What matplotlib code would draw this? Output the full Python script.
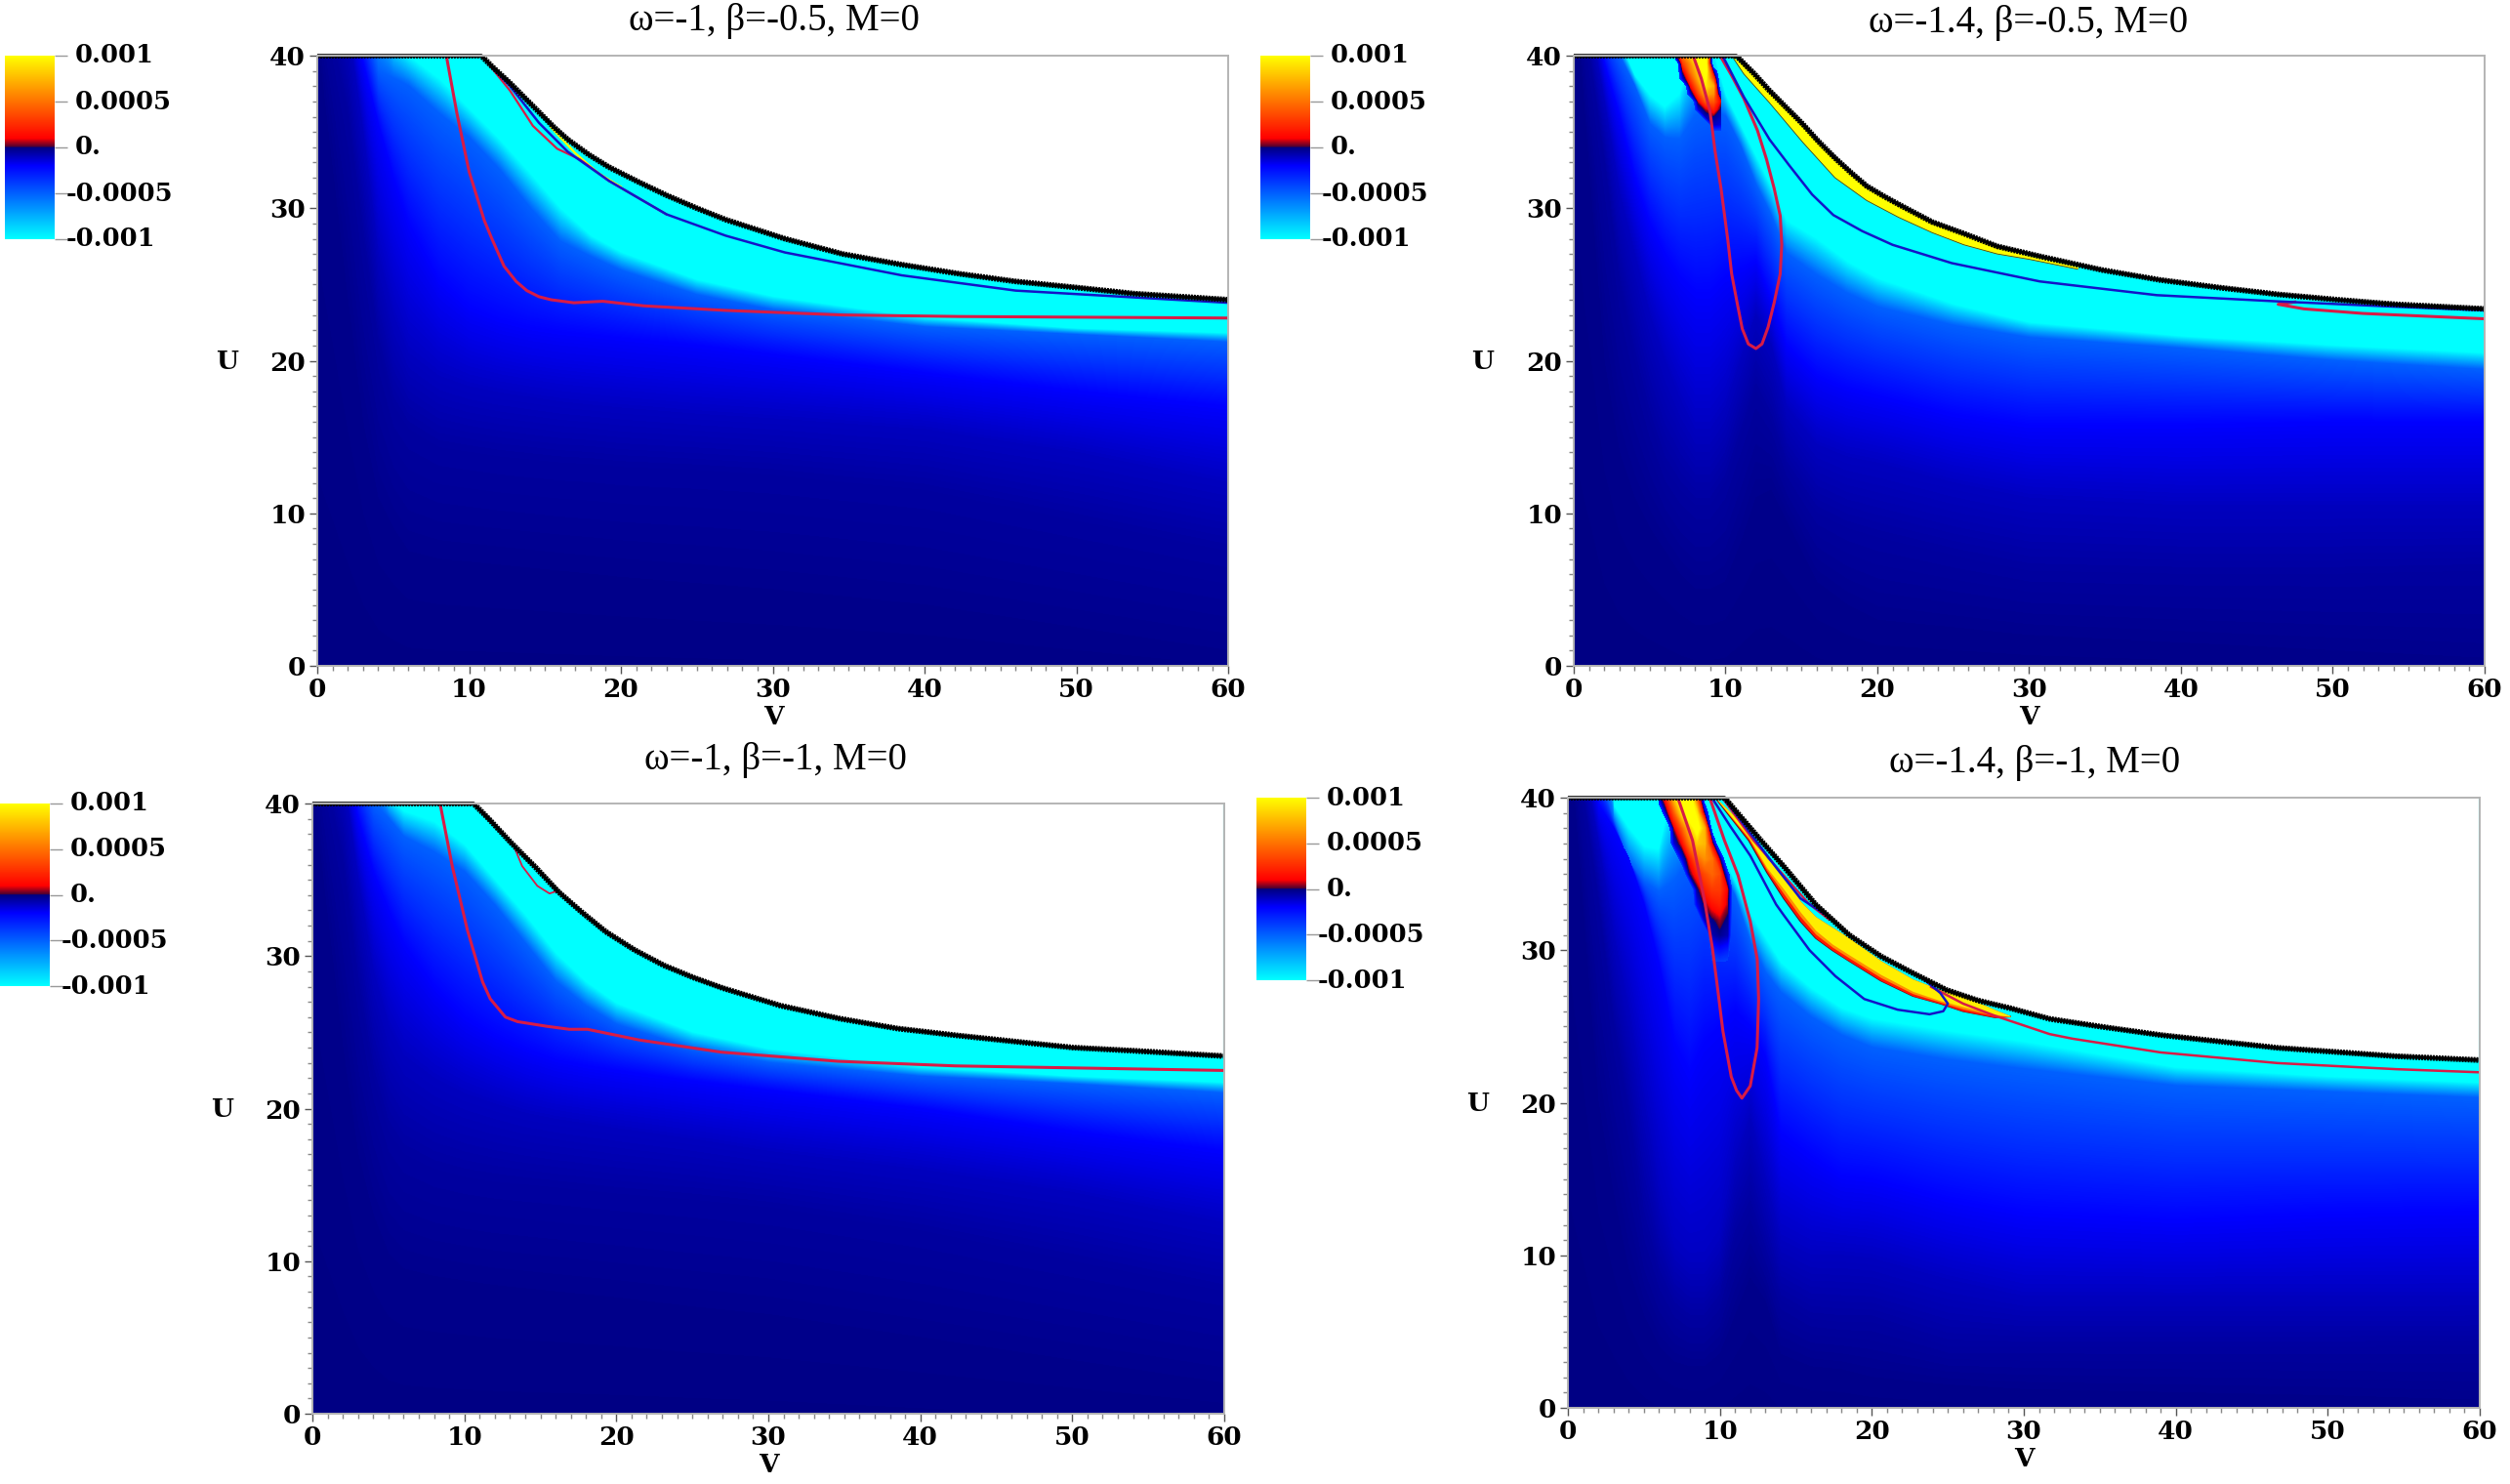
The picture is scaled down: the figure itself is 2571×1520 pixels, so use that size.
import numpy as np
import matplotlib
matplotlib.use('Agg')
import matplotlib.pyplot as plt
from matplotlib.colors import LinearSegmentedColormap, Normalize
from matplotlib.cm import ScalarMappable
from matplotlib.ticker import MultipleLocator

W, H = 2571, 1520

# field levels (in units of 1e-3) and the U position of each level along V
level_vals = [-0.005, -0.02, -0.05, -0.1, -0.2, -0.5, -1.0, -1.5]

v_left = [0, 2, 3, 4, 5, 6, 8, 10, 12, 14, 16, 18, 20, 25, 30, 40, 50, 60]
v_right = [0, 2, 3, 4, 5, 6, 7, 8, 9, 10, 11, 12, 13, 14, 16, 18, 20, 25, 30, 40, 50, 60]

# panel 1: omega=-1, beta=-0.5
p1_navy = [41, 24, 16, 11, 9, 7.5, 7, 6.8, 6.6, 6.4, 6.2, 6, 5.8, 5.4, 5, 4, 2.5, 1]
p1_dark = [46, 36, 28, 21, 17, 15.5, 14.3, 14, 13.7, 13.5, 13.3, 13.2, 13, 12.8, 12.5, 11.5, 9.5, 7.5]
p1_mid = [50, 42, 35, 27, 23, 20.5, 19, 18.3, 17.9, 17.6, 17.3, 17.1, 16.9, 16.5, 16.2, 15.5, 14, 12]
p1_blue = [55, 44, 39.5, 35.5, 32, 29, 25.3, 23.5, 22.7, 22.2, 21.9, 21.7, 21.5, 21, 20.4, 19.2, 18, 17]
p1_half = [65, 50, 43, 39, 38.5, 38, 36.2, 34.6, 32.5, 30, 27.8, 26.8, 25.9, 24.3, 23.3, 22.2, 21.7, 21.2]
p1_cyan = [70, 60, 52, 45, 41, 40, 38.5, 36.5, 34.5, 32.3, 30, 28.2, 27.1, 25.3, 24.2, 22.8, 22.1, 21.8]
p1_edge_v = [0, 10.8, 11.5, 12.7, 13.7, 14.6, 15.6, 16.5, 17.9, 19.2, 21.2, 23, 25, 26.9, 30.8, 34.6, 38.5, 42.3, 46, 50, 53.8, 60]
p1_edge_u = [40, 40, 39.3, 38.2, 37.2, 36.3, 35.3, 34.5, 33.5, 32.7, 31.7, 30.85, 30, 29.25, 28, 27, 26.3, 25.7, 25.2, 24.8, 24.4, 24]
p1_red_v = [8.5, 9.2, 10, 11, 11.5, 12.3, 13.1, 13.8, 14.6, 15.4, 16.9, 18.8, 21.5, 26.9, 34.6, 42.3, 60]
p1_red_u = [40, 36.2, 32.4, 29.2, 28, 26.2, 25.2, 24.6, 24.2, 24, 23.8, 23.9, 23.6, 23.3, 23, 22.9, 22.8]
p1_red2_v = [11, 12.7, 14.2, 15.8, 17.3, 19.2, 23]
p1_red2_u = [39.8, 37.7, 35.4, 33.9, 33.2, 31.8, 29.6]
p1_blue_v = [11, 12.7, 14.6, 16.5, 19.2, 23, 26.9, 30.8, 38.5, 46, 60]
p1_blue_u = [39.8, 38, 35.6, 33.7, 31.8, 29.6, 28.2, 27.1, 25.6, 24.6, 23.8]
p1_sliver_v = [15.4, 17, 18.5, 20]
p1_sliver_u = [35.3, 33.6, 32.3, 31.4]

# panel 2: omega=-1.4, beta=-0.5
p2_navy = [45, 20, 14, 11, 9, 7.5, 6, 5, 5, 5.5, 8, 11, 11.5, 9.5, 5.5, 4, 3, 2.5, 2, 1.5, 1, 0.5]
p2_dark = [47, 33, 25, 20, 16, 13, 11.5, 10.5, 10.5, 12, 15, 18, 16, 13, 10, 9, 8.4, 7.2, 6.2, 6, 6, 6.2]
p2_mid = [48, 37, 31, 27, 23, 20, 17.5, 15.5, 15.5, 17, 20, 23, 21, 17, 14.5, 13.7, 13.3, 12, 11, 10.5, 10.5, 10.5]
p2_blue = [50, 39.5, 36, 32, 29, 27, 25.5, 24.5, 24.5, 25.5, 26, 26.5, 24, 21, 19, 18.2, 17.7, 16.5, 15.8, 15.8, 16, 16]
p2_half = [55, 42, 40, 38, 35.5, 34.6, 34.5, 36, 36.5, 36, 34, 31.5, 29.5, 27, 25.6, 24.4, 23.5, 22.3, 21.5, 20.8, 20, 19.4]
p2_cyan = [70, 60, 41, 38.7, 37.4, 36.6, 37.5, 41, 41, 37.4, 35.4, 33.4, 31.4, 29.2, 28, 26.5, 25.4, 23.7, 22.5, 21.6, 21, 20.5]
p2_edge_v = [0, 10.7, 11.9, 12.9, 14, 15.1, 16.1, 17.2, 18.3, 19.3, 20.4, 21.5, 23.6, 25.8, 27.9, 30.9, 34.8, 38.6, 42.5, 46.4, 50.3, 54.1, 60]
p2_edge_u = [40, 40, 38.8, 37.7, 36.6, 35.5, 34.4, 33.3, 32.3, 31.45, 30.8, 30.2, 29.1, 28.3, 27.5, 26.8, 25.95, 25.3, 24.8, 24.35, 24, 23.7, 23.4]
p2_band_v = [10.4, 11.2, 12.9, 15.1, 17.2, 19.3, 21.4, 23.6, 25.7, 27.9, 30, 33.2]
p2_band_low = [40, 38.8, 36.9, 34.3, 32, 30.5, 29.4, 28.4, 27.6, 27, 26.65, 26]
p2_band_high = [40, 39.4, 37.7, 35.5, 33.3, 31.45, 30.3, 29.1, 28.3, 27.5, 26.9, 26.2]
p2_red_v = [7.9, 8.4, 8.97, 9.3, 9.7, 10.15, 10.4, 10.8, 11.1, 11.5, 12, 12.4, 12.8, 13.2, 13.6, 13.7, 13.6, 13.2, 12.7, 12.1, 11.2, 10.4, 9.7]
p2_red_u = [39.9, 38.5, 36.4, 33.8, 31.3, 27.9, 25.7, 23.6, 22.1, 21.1, 20.8, 21.1, 22.2, 23.8, 25.7, 27.6, 29.5, 31.3, 33.2, 35.1, 37.2, 38.7, 39.9]
p2_red2_v = [47.5, 46.4, 48.1, 52, 60]
p2_red2_u = [23.85, 23.7, 23.4, 23.1, 22.75]
p2_blue_v = [9.8, 11.2, 12.9, 14.2, 15.7, 17.1, 19, 21, 24.9, 30.7, 38.4, 46.2, 53.9, 60]
p2_blue_u = [40, 37.3, 34.5, 32.8, 30.9, 29.55, 28.5, 27.6, 26.4, 25.2, 24.3, 23.9, 23.55, 23.3]
p2_blob_v = [6.7, 7.2, 7.7, 8.2, 8.7, 9.2, 9.7]
p2_blob_u = [35, 35.5, 36, 36.5, 37, 37.5, 38, 38.5, 39, 39.5, 40]
p2_blob = [[-.8, -.8, -.8, -.8, -.8, -.45, -.45],
           [-.8, -.8, -.8, -.8, -.8, -.1, -.15],
           [-.8, -.8, -.8, -.8, -.1, -.02, -.1],
           [-.8, -.8, -.8, -.15, .05, .2, -.05],
           [-.8, -.8, -.8, .05, .4, .4, .05],
           [-.8, -.8, -.15, .3, .7, .6, -.4],
           [-.8, -.8, .1, .5, .9, .7, -.8],
           [-.8, -.15, .3, .7, 1.0, .3, -.8],
           [-.8, .05, .5, .8, 1.1, -.1, -.8],
           [-.8, .3, .6, 1.0, 1.1, -.8, -.8],
           [-.15, .5, .8, 1.2, 1.1, -.8, -.8]]

# panel 3: omega=-1, beta=-1
p3_navy = [41, 24, 17, 13, 10.5, 9.5, 9, 8.7, 8.4, 8.2, 8, 7.8, 7.6, 7, 6.5, 5, 3.5, 2]
p3_dark = [46, 36, 28, 22, 18.5, 17, 16, 15.5, 15.2, 15, 14.8, 14.6, 14.4, 14, 13.5, 12, 10, 8]
p3_mid = [50, 42, 35, 29, 25.5, 23.5, 22, 21, 20.3, 19.7, 19.3, 19, 18.7, 18, 17.2, 16, 14.5, 12.5]
p3_blue = [55, 44, 39, 35.5, 33, 30.8, 28, 26, 24.8, 23.9, 23.2, 22.8, 22.5, 21.8, 21.2, 20, 18.5, 17.2]
p3_half = [65, 50, 43, 40, 39, 37.8, 36.8, 35.5, 33.3, 30.8, 28.3, 26.7, 25.5, 23.9, 23, 22.1, 21.6, 21]
p3_cyan = [70, 60, 52, 45, 40.5, 39.5, 38.8, 37.3, 35, 32.7, 30.2, 28.3, 26.9, 25, 23.9, 22.7, 22.1, 21.7]
p3_edge_v = [0, 10.6, 11.6, 13.1, 14.7, 16.2, 17.7, 19.3, 21.2, 23.1, 25.05, 27, 30.8, 34.7, 38.5, 42.4, 46.2, 50.05, 53.9, 59.9]
p3_edge_u = [40, 40, 39, 37.4, 35.8, 34.2, 32.9, 31.6, 30.4, 29.4, 28.6, 27.9, 26.75, 25.9, 25.25, 24.8, 24.4, 24, 23.8, 23.45]
p3_red_v = [8.4, 9.2, 10.2, 11.2, 11.7, 12.7, 13.5, 15.4, 16.9, 18.1, 21.5, 26.9, 34.6, 42.3, 60]
p3_red_u = [40, 35.9, 31.7, 28.3, 27.2, 26, 25.7, 25.4, 25.2, 25.2, 24.5, 23.7, 23.1, 22.8, 22.5]
p3_red2_v = [13.3, 13.8, 14.8, 15.6, 16.2]
p3_red2_u = [37.1, 35.9, 34.6, 34.1, 34.3]

# panel 4: omega=-1.4, beta=-1
p4_navy = [45, 20, 14, 9, 6, 4, 3, 2.7, 2.7, 3.5, 6, 8.5, 7, 3.5, 2.7, 2.5, 2, 1.5, 1.2, 1, 0.8, 0.5]
p4_dark = [47, 33, 25, 19, 12, 8.5, 6.5, 5.7, 5.7, 7, 11, 13, 10, 7, 5.8, 5.6, 5.6, 4, 4, 4, 4, 4.1]
p4_mid = [48, 37, 31, 26, 20, 14, 10.5, 9.5, 9.5, 11, 16, 19, 15, 11, 10, 10, 9.8, 8.4, 7.3, 7.3, 7.3, 7.3]
p4_blue = [50, 39.5, 38, 36, 33, 29, 24, 22, 24, 25, 26, 25, 23, 18, 16.5, 15.2, 15, 13.7, 12.8, 12.3, 12.7, 12.9]
p4_half = [55, 42, 38.5, 35.8, 34.5, 33.8, 34.5, 36, 37, 35.5, 33.5, 30.5, 28.5, 27.2, 25.6, 24.4, 23.6, 22.8, 22.2, 21.1, 20.7, 20.3]
p4_cyan = [70, 60, 39.5, 38, 36.8, 36.6, 41, 41, 38.8, 36.4, 34.5, 32.4, 30.8, 29.2, 27.5, 26.2, 25.5, 24.7, 24, 22.3, 21.7, 21.3]
p4_edge_v = [0, 10.3, 11.5, 12.66, 14.2, 16.3, 18.5, 20.6, 22.7, 24.9, 27, 29.1, 31.7, 35, 39, 46.7, 54.5, 59.9]
p4_edge_u = [40, 40, 38.6, 37.24, 35.5, 33, 31, 29.6, 28.5, 27.4, 26.7, 26.2, 25.5, 25, 24.44, 23.6, 23.05, 22.8]
p4_band_v = [9.7, 11.9, 13.1, 14.2, 15.3, 16.3, 17.4, 18.5, 20.6, 22.7, 24.5, 26, 28.1, 29.1]
p4_band_low = [40, 37.2, 35.1, 33.4, 31.9, 30.8, 30, 29.3, 28, 27, 26.5, 26, 25.6, 25.65]
p4_orange_low = [40, 37.3, 35.25, 33.7, 32.2, 31.05, 30.2, 29.5, 28.2, 27.15, 26.6, 26.15, 25.7, 25.65]
p4_core_low = [40, 37.4, 35.4, 34, 32.5, 31.3, 30.4, 29.7, 28.4, 27.3, 26.7, 26.3, 25.8, 25.65]
p4_band_high = [40, 37.9, 36, 35, 33.2, 32.2, 31.5, 30.8, 29.3, 28.1, 27.4, 27, 26.1, 25.7]
p4_red_v = [7.3, 8.2, 9, 9.5, 9.8, 10.2, 10.75, 11.1, 11.45, 12, 12.45, 12.55, 12.46, 12, 11.2, 10.3, 9.4]
p4_red_u = [39.8, 37.2, 33.2, 30.2, 27.9, 24.7, 21.7, 20.8, 20.3, 21.1, 23.6, 26.8, 29.4, 31.9, 34.9, 37.2, 39.8]
p4_red2_v = [10.3, 12.2, 14.2, 15.9, 17.2]
p4_red2_u = [39.8, 37.2, 34.9, 33, 32]
p4_tail_v = [23.9, 26, 28.1, 30.2, 31.7, 33.2, 39, 46.7, 54.5, 59.9]
p4_tail_u = [27.6, 26.5, 25.7, 25, 24.5, 24.2, 23.3, 22.6, 22.2, 22]
p4_blue_v = [9.6, 10.7, 12, 13.7, 14.2, 15.9, 17.6, 19.5, 21.7, 23.8, 24.7, 25, 24.5, 22.7, 20.6, 18.5, 17, 15.3, 13.8, 12.5, 10.4]
p4_blue_u = [39.8, 38.1, 36.2, 33, 32.3, 30, 28.3, 26.8, 26.1, 25.8, 26, 26.5, 27.2, 28.7, 30.2, 31.6, 32.3, 33.4, 35.3, 37, 39.8]
p4_blob_v = [6, 6.5, 7, 7.5, 8, 8.5, 9, 9.5, 10, 10.5, 11]
p4_blob_u = [29, 30, 31, 32, 33, 34, 35, 36, 37, 38, 39, 40]
p4_blob = [[-.8, -.8, -.8, -.8, -.8, -.8, -.8, -.45, -.45, -.45, -.8],
           [-.8, -.8, -.8, -.8, -.8, -.8, -.8, -.3, -.25, -.3, -.8],
           [-.8, -.8, -.8, -.8, -.8, -.8, -.8, -.08, -.03, -.08, -.8],
           [-.8, -.8, -.8, -.8, -.8, -.8, -.1, -.02, .05, -.03, -.8],
           [-.8, -.8, -.8, -.8, -.8, -.2, .02, .15, .2, .05, -.8],
           [-.8, -.8, -.8, -.8, -.8, -.05, .2, .3, .3, .08, -.8],
           [-.8, -.8, -.8, -.8, -.03, .2, .35, .45, .35, -.3, -.8],
           [-.8, -.8, -.8, -.2, .15, .45, .6, .5, -.02, -.8, -.8],
           [-.8, -.8, -.15, .1, .5, .8, .75, .05, -.8, -.8, -.8],
           [-.8, -.8, .05, .4, .8, 1.1, .7, -.6, -.8, -.8, -.8],
           [-.8, -.05, .4, .9, 1.2, .9, -.1, -.8, -.8, -.8, -.8],
           [-.15, .25, .8, 1.2, 1.2, .4, -.6, -.8, -.8, -.8, -.8]]

titles = ['ω=-1, β=-0.5, M=0', 'ω=-1.4, β=-0.5, M=0', 'ω=-1, β=-1, M=0', 'ω=-1.4, β=-1, M=0']
v_ticks = [0, 10, 20, 30, 40, 50, 60]
u_ticks = [0, 10, 20, 30, 40]
bar_ticks = [-0.001, -0.0005, 0, 0.0005, 0.001]
bar_labels = ['-0.001', '-0.0005', '0.', '0.0005', '0.001']

SERIF = 'Liberation Serif'
NUMS = 'DejaVu Serif'
RED = '#d81b46'
BLUE = '#1414c8'
GREY = '#b4b4b4'

cmap = LinearSegmentedColormap.from_list('field', [
    (0.0, '#00ffff'), (0.4, '#0000ff'), (0.4995, '#000080'),
    (0.505, '#500030'), (0.55, '#ff0000'), (1.0, '#ffff00')], N=1024)
norm = Normalize(vmin=-0.001, vmax=0.001)
fill_levels = np.linspace(-0.001, 0.001, 401)
blob_levels = np.linspace(-0.0004, 0.001, 280)


def px_axes(fig, x0, x1, y0, y1):
    return fig.add_axes([x0 / W, 1 - y1 / H, (x1 - x0) / W, (y1 - y0) / H])


def draw_field(ax, v, rows):
    # stack the level curves into a grid that follows the features
    vv = np.array(v, float)
    low = np.full(vv.size, -2.0)
    top = np.full(vv.size, 90.0)
    uu = np.vstack([low] + [np.array(r, float) for r in rows] + [top])
    xx = np.tile(vv, (uu.shape[0], 1))
    zz = np.tile(np.array(level_vals)[:, None] * 1e-3, (1, vv.size))
    ax.contourf(xx, uu, zz, levels=fill_levels, cmap=cmap, norm=norm,
                extend='both', antialiased=False, zorder=1)


def draw_blob(ax, v, u, z):
    ax.contourf(v, u, np.array(z) * 1e-3, levels=blob_levels, cmap=cmap, norm=norm,
                extend='max', antialiased=False, zorder=2)


def draw_edge(ax, v, u):
    # white outside the allowed region, thick black edge along it
    ax.fill_between(v, u, 41, color='white', lw=0, zorder=5)
    ax.plot(v, u, color='black', lw=2.6, zorder=6, clip_on=False, solid_capstyle='butt')
    ax.plot(v, u, color='black', lw=4.2, dashes=(0.35, 0.16), zorder=6, clip_on=True)


def style_axes(ax):
    ax.set_xlim(0, 60)
    ax.set_ylim(0, 40)
    ax.set_xticks(v_ticks)
    ax.set_yticks(u_ticks)
    ax.xaxis.set_minor_locator(MultipleLocator(1))
    ax.yaxis.set_minor_locator(MultipleLocator(1))
    ax.tick_params(which='major', length=5.5, width=1, color='#555555', pad=3)
    ax.tick_params(which='minor', length=3.5, width=1, color='#888888')
    for lab in ax.get_xticklabels() + ax.get_yticklabels():
        lab.set_family(NUMS)
        lab.set_weight('bold')
        lab.set_fontsize(19)
    for sp in ax.spines.values():
        sp.set_color(GREY)
        sp.set_linewidth(1.4)
        sp.set_zorder(7)


def draw_bar(fig, x0, x1, y0, y1):
    cax = px_axes(fig, x0, x1, y0, y1)
    cb = fig.colorbar(ScalarMappable(norm=norm, cmap=cmap), cax=cax)
    cb.outline.set_visible(False)
    cb.set_ticks(bar_ticks)
    cb.set_ticklabels([''] * len(bar_ticks))
    cax.tick_params(length=9.4, width=1, color='#999999', pad=0)
    cax.yaxis.get_major_ticks()[1].tick2line.set_color('black')
    cax.yaxis.get_major_ticks()[3].tick2line.set_color('black')
    # the minus sign hangs out to the left of the digits
    for val, txt in zip(bar_ticks, bar_labels):
        off = 12 if txt.startswith('-') else 21
        cax.annotate(txt, xy=(1, val), xycoords=cax.get_yaxis_transform(),
                     xytext=(off, 0), textcoords='offset pixels', va='center', ha='left',
                     family=NUMS, weight='bold', fontsize=18.5)


def label(fig, x, y, s, size=19, weight='bold', family=NUMS):
    fig.text(x / W, 1 - y / H, s, family=family, weight=weight, fontsize=size,
             ha='center', va='center')


fig = plt.figure(figsize=(W / 100, H / 100), dpi=100)

# top left
ax1 = px_axes(fig, 325, 1258, 57, 682)
draw_field(ax1, v_left, [p1_navy, p1_dark, p1_mid, p1_blue, p1_half, p1_cyan])
ax1.plot(p1_sliver_v, p1_sliver_u, color='#ffff00', lw=1.6, zorder=3)
ax1.plot(p1_red_v, p1_red_u, color=RED, lw=2.2, zorder=4)
ax1.plot(p1_red2_v, p1_red2_u, color=RED, lw=1.6, zorder=4)
ax1.plot(p1_blue_v, p1_blue_u, color=BLUE, lw=1.8, zorder=4)
draw_edge(ax1, p1_edge_v, p1_edge_u)
style_axes(ax1)

# top right
ax2 = px_axes(fig, 1612, 2545, 57, 682)
draw_field(ax2, v_right, [p2_navy, p2_dark, p2_mid, p2_blue, p2_half, p2_cyan])
draw_blob(ax2, p2_blob_v, p2_blob_u, p2_blob)
ax2.fill_between(p2_band_v, p2_band_low, p2_band_high, color='#ffff00', lw=0, zorder=3)
ax2.plot(p2_band_v, p2_band_low, color='#404020', lw=0.6, zorder=3)
ax2.plot(p2_red_v, p2_red_u, color=RED, lw=2.2, zorder=4)
ax2.plot(p2_red2_v, p2_red2_u, color=RED, lw=2.2, zorder=4)
ax2.plot(p2_blue_v, p2_blue_u, color=BLUE, lw=1.8, zorder=4)
draw_edge(ax2, p2_edge_v, p2_edge_u)
style_axes(ax2)

# bottom left
ax3 = px_axes(fig, 320, 1254, 823, 1448)
draw_field(ax3, v_left, [p3_navy, p3_dark, p3_mid, p3_blue, p3_half, p3_cyan])
ax3.plot(p3_red_v, p3_red_u, color=RED, lw=2.2, zorder=4)
ax3.plot(p3_red2_v, p3_red2_u, color=RED, lw=1.3, zorder=4)
draw_edge(ax3, p3_edge_v, p3_edge_u)
style_axes(ax3)

# bottom right
ax4 = px_axes(fig, 1606, 2540, 817, 1442)
draw_field(ax4, v_right, [p4_navy, p4_dark, p4_mid, p4_blue, p4_half, p4_cyan])
draw_blob(ax4, p4_blob_v, p4_blob_u, p4_blob)
ax4.plot(p4_band_v, p4_band_low, color='#601020', lw=1.2, zorder=3)
ax4.fill_between(p4_band_v, p4_band_low, p4_band_high, color='#ff1800', lw=0, zorder=3)
ax4.fill_between(p4_band_v, p4_orange_low, p4_band_high, color='#ff9000', lw=0, zorder=3)
ax4.fill_between(p4_band_v, p4_core_low, p4_band_high, color='#ffee00', lw=0, zorder=3)
ax4.plot(p4_red_v, p4_red_u, color=RED, lw=2.2, zorder=4)
ax4.plot(p4_red2_v, p4_red2_u, color=RED, lw=1.6, zorder=4)
ax4.plot(p4_tail_v, p4_tail_u, color=RED, lw=1.8, zorder=4)
ax4.plot(p4_blue_v, p4_blue_u, color=BLUE, lw=1.8, zorder=4)
draw_edge(ax4, p4_edge_v, p4_edge_u)
style_axes(ax4)

# colour bars
draw_bar(fig, 5, 56, 57, 245)
draw_bar(fig, 1291, 1342, 57, 245)
draw_bar(fig, 0, 51, 823, 1010)
draw_bar(fig, 1287, 1338, 817, 1004)

# titles and axis names
label(fig, 793, 21, titles[0], size=28, weight='normal', family=SERIF)
label(fig, 2078, 23, titles[1], size=28, weight='normal', family=SERIF)
label(fig, 794, 779, titles[2], size=28, weight='normal', family=SERIF)
label(fig, 2084, 782, titles[3], size=28, weight='normal', family=SERIF)
label(fig, 792, 735, 'V')
label(fig, 2078, 735, 'V')
label(fig, 787, 1500, 'V')
label(fig, 2073, 1494, 'V')
label(fig, 233, 371, 'U')
label(fig, 1519, 371, 'U')
label(fig, 228, 1137, 'U')
label(fig, 1514, 1130, 'U')

fig.savefig('out.png', dpi=100)
